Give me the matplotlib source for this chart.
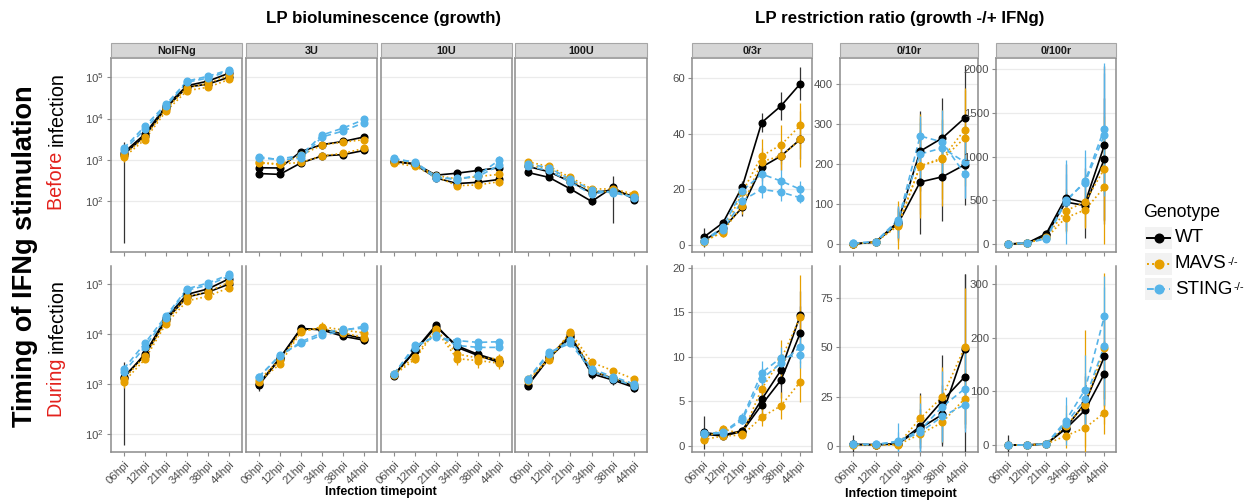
import numpy as np
import matplotlib
matplotlib.use('Agg')
import matplotlib.pyplot as plt
from matplotlib.lines import Line2D
from matplotlib.patches import Rectangle
from matplotlib.ticker import FixedLocator, NullLocator, LogFormatterSciNotation, NullFormatter

plt.rcParams['font.family'] = ['Liberation Sans', 'DejaVu Sans']
plt.rcParams['mathtext.fontset'] = 'custom'
plt.rcParams['mathtext.rm'] = 'Liberation Sans'
plt.rcParams['mathtext.it'] = 'Liberation Sans:italic'
plt.rcParams['mathtext.bf'] = 'Liberation Sans:bold'
plt.rcParams['mathtext.default'] = 'regular'

# ---------------------------------------------------------------- data
timepoints = ['06hpi', '12hpi', '21hpi', '34hpi', '38hpi', '44hpi']
genotypes = ['WT', 'MAVS', 'STING']
genotype_names = ['WT', 'MAVS', 'STING']
genotype_supers = ['', '-/-', '-/-']
growth_panels = ['NoIFNg', '3U', '10U', '100U']
ratio_panels = ['0/3r', '0/10r', '0/100r']

# rows: WT rep a, WT rep b, MAVS rep a, MAVS rep b, STING rep a, STING rep b
lum_before_noifng = [
    [1350, 3800, 18000, 57000, 68000, 100000],
    [1500, 4200, 20000, 62000, 80000, 125000],
    [1150, 3100, 15000, 47000, 57000, 88000],
    [1300, 3500, 17000, 55000, 70000, 112000],
    [1900, 6500, 22000, 80000, 105000, 150000],
    [1700, 5500, 20000, 75000, 95000, 140000],
]
lum_before_noifng_sd = [
    [1340, 500, 2000, 6000, 8000, 12000],
    [300, 500, 2000, 7000, 9000, 15000],
    [250, 400, 1500, 5000, 7000, 10000],
    [250, 400, 1800, 6000, 8000, 13000],
    [400, 900, 2500, 9000, 10000, 15000],
    [300, 700, 2000, 8000, 9000, 14000],
]
lum_before_3u = [
    [470, 450, 850, 1250, 1350, 1700],
    [650, 640, 1600, 2350, 2800, 3600],
    [870, 800, 870, 1250, 1450, 1900],
    [850, 780, 1300, 2300, 2700, 3100],
    [1200, 1000, 1100, 3600, 5000, 8000],
    [1100, 1050, 1300, 4000, 5900, 9500],
]
lum_before_3u_sd = [
    [80, 60, 120, 150, 150, 200],
    [80, 70, 200, 250, 300, 400],
    [100, 90, 100, 150, 160, 200],
    [100, 90, 150, 250, 300, 350],
    [130, 120, 130, 400, 600, 900],
    [120, 120, 150, 450, 600, 1000],
]
lum_before_10u = [
    [900, 820, 430, 480, 560, 650],
    [950, 780, 370, 270, 290, 340],
    [850, 700, 400, 240, 250, 300],
    [950, 800, 420, 350, 400, 450],
    [1100, 850, 360, 360, 400, 750],
    [1050, 900, 400, 330, 430, 1000],
]
lum_before_10u_sd = [
    [100, 90, 50, 60, 70, 80],
    [100, 90, 45, 35, 35, 40],
    [100, 80, 45, 30, 30, 70],
    [100, 90, 50, 45, 50, 60],
    [120, 100, 45, 45, 50, 200],
    [120, 100, 50, 40, 55, 250],
]
lum_before_100u = [
    [500, 380, 200, 100, 220, 110],
    [700, 520, 300, 160, 190, 130],
    [900, 700, 380, 200, 200, 150],
    [750, 620, 330, 180, 170, 140],
    [800, 650, 340, 190, 160, 130],
    [700, 560, 290, 150, 180, 120],
]
lum_before_100u_sd = [
    [80, 60, 30, 20, 190, 15],
    [90, 70, 40, 25, 30, 20],
    [100, 80, 50, 30, 30, 20],
    [90, 80, 40, 25, 25, 20],
    [100, 80, 45, 25, 25, 20],
    [90, 70, 40, 20, 25, 20],
]

lum_during_noifng = [
    [1400, 3700, 19000, 55000, 69000, 100000],
    [1300, 4000, 21000, 62000, 80000, 128000],
    [1100, 3100, 16000, 46000, 57000, 85000],
    [1250, 3600, 18000, 55000, 70000, 110000],
    [2000, 6500, 23000, 80000, 105000, 155000],
    [1700, 5500, 21000, 75000, 95000, 145000],
]
lum_during_noifng_sd = [
    [1340, 500, 2000, 6000, 8000, 12000],
    [300, 500, 2000, 7000, 9000, 15000],
    [250, 400, 1500, 5000, 7000, 10000],
    [250, 400, 1800, 6000, 8000, 13000],
    [400, 900, 2500, 9000, 10000, 15000],
    [300, 700, 2000, 8000, 9000, 14000],
]
lum_during_3u = [
    [940, 3200, 12500, 12500, 10000, 8000],
    [1000, 3300, 13000, 12000, 9000, 7500],
    [1100, 2500, 11000, 14000, 12000, 10500],
    [1200, 3000, 11500, 13000, 10500, 8500],
    [1350, 3800, 6500, 9500, 11500, 14500],
    [1400, 3600, 7000, 10500, 12500, 13000],
]
lum_during_3u_sd = [
    [200, 400, 1500, 1500, 1500, 1500],
    [150, 400, 1500, 1500, 1200, 1200],
    [150, 300, 1500, 3500, 2500, 2000],
    [150, 350, 1300, 1800, 1500, 2000],
    [200, 450, 800, 1200, 1500, 1800],
    [200, 400, 800, 1200, 1500, 1600],
]
lum_during_10u = [
    [1500, 4700, 15000, 5400, 3700, 2700],
    [1450, 4500, 14000, 5800, 3900, 2900],
    [1500, 3100, 12000, 3200, 2950, 2600],
    [1600, 3500, 12500, 4000, 3300, 3200],
    [1550, 5900, 8700, 7400, 6800, 7000],
    [1600, 5300, 9500, 5900, 5400, 5400],
]
lum_during_10u_sd = [
    [200, 600, 1800, 700, 500, 400],
    [200, 500, 1500, 700, 500, 400],
    [200, 500, 1500, 800, 900, 600],
    [200, 400, 1500, 600, 500, 800],
    [200, 700, 1000, 900, 800, 800],
    [200, 600, 1000, 700, 600, 600],
]
lum_during_100u = [
    [930, 3300, 8600, 1600, 1200, 850],
    [950, 3500, 9500, 1800, 1300, 900],
    [1250, 3000, 11000, 2700, 1850, 1250],
    [1150, 3300, 10500, 1900, 1300, 950],
    [1250, 4300, 6500, 1850, 1250, 930],
    [1200, 4000, 7500, 2000, 1400, 1000],
]
lum_during_100u_sd = [
    [120, 400, 1000, 350, 250, 150],
    [120, 400, 1000, 300, 200, 150],
    [150, 400, 1300, 400, 250, 200],
    [150, 400, 1200, 300, 200, 150],
    [150, 500, 800, 300, 200, 180],
    [150, 500, 900, 300, 200, 150],
]

ratio_before_3 = [
    [2.8, 8, 21, 44, 50, 58],
    [1.5, 6, 13.5, 28, 32, 38],
    [1.5, 4.5, 19, 32, 36, 43],
    [1, 5, 14, 30, 32, 38],
    [1.5, 6.5, 19.5, 25.5, 23, 20],
    [1.5, 5.5, 16, 20, 19, 17],
]
ratio_before_3_sd = [
    [3.5, 1.5, 2, 3.5, 5, 6],
    [1, 1.5, 3, 5, 5, 7],
    [1, 1.5, 3, 6, 7, 8],
    [1, 1.5, 3, 5, 5, 10],
    [1, 2, 2, 4, 4, 3],
    [1, 2, 2, 3, 3, 2],
]
ratio_before_10 = [
    [0, 5, 55, 232, 265, 315],
    [0, 5, 50, 155, 168, 198],
    [0, 5, 48, 195, 215, 285],
    [0, 5, 45, 195, 212, 265],
    [2, 5, 55, 270, 255, 175],
    [2, 6, 60, 225, 240, 205],
]
ratio_before_10_sd = [
    [10, 5, 40, 100, 100, 130],
    [5, 5, 40, 130, 110, 100],
    [5, 5, 60, 130, 120, 105],
    [5, 5, 40, 120, 100, 120],
    [5, 5, 40, 50, 80, 60],
    [5, 5, 30, 80, 70, 90],
]
ratio_before_100 = [
    [0, 10, 120, 530, 470, 1130],
    [0, 10, 100, 480, 440, 970],
    [0, 10, 80, 380, 480, 860],
    [0, 10, 70, 300, 390, 650],
    [0, 12, 60, 480, 720, 1320],
    [0, 12, 70, 500, 700, 1250],
]
ratio_before_100_sd = [
    [10, 10, 40, 380, 400, 900],
    [5, 10, 30, 120, 100, 700],
    [5, 10, 30, 250, 300, 600],
    [5, 10, 30, 150, 200, 650],
    [5, 10, 30, 480, 350, 750],
    [5, 10, 30, 300, 300, 700],
]
ratio_during_3 = [
    [1.5, 1.2, 1.7, 5.2, 8.5, 14.7],
    [1.3, 1.1, 1.6, 4.6, 7.4, 12.7],
    [0.8, 1.9, 1.3, 6.4, 9.7, 14.5],
    [0.7, 1.1, 1.2, 3.2, 4.5, 7.2],
    [1.4, 1.5, 3.1, 8.2, 9.9, 10.2],
    [1.3, 1.4, 2.9, 7.5, 9.3, 11.1],
]
ratio_during_3_sd = [
    [1.9, 0.4, 0.4, 1.2, 1.8, 2.7],
    [0.6, 0.3, 0.3, 1.5, 2, 3],
    [0.4, 0.4, 0.3, 1.5, 2.2, 4.7],
    [0.4, 0.3, 0.3, 1.0, 1.5, 2.3],
    [0.5, 0.4, 0.6, 1.3, 1.2, 1.5],
    [0.5, 0.4, 0.5, 1.2, 1.0, 1.8],
]
ratio_during_10 = [
    [0.8, 0.7, 1.2, 10, 23, 35],
    [0.8, 0.7, 1.0, 9, 16, 49],
    [0.5, 0.5, 0.8, 14, 25, 50],
    [0.5, 0.6, 0.7, 6, 12, 24],
    [0.9, 0.8, 2.5, 8, 20, 29],
    [0.9, 0.8, 2.0, 7, 15, 21],
]
ratio_during_10_sd = [
    [5, 1, 1, 17, 23, 52],
    [2, 1, 1, 10, 15, 38],
    [1, 1, 1, 12, 15, 30],
    [1, 1, 1, 5, 10, 15],
    [2, 1, 9, 14, 18, 20],
    [2, 1, 5, 8, 12, 14],
]
ratio_during_100 = [
    [0, 0, 2, 32, 78, 165],
    [0, 0, 2, 30, 65, 133],
    [0, 0, 2, 17, 32, 60],
    [0, 0, 2, 35, 75, 180],
    [0, 0, 2, 45, 103, 240],
    [0, 0, 2, 40, 85, 185],
]
ratio_during_100_sd = [
    [18, 2, 2, 15, 50, 80],
    [10, 2, 2, 12, 30, 60],
    [5, 2, 2, 10, 35, 40],
    [5, 2, 2, 40, 140, 140],
    [8, 2, 2, 45, 65, 75],
    [5, 2, 2, 20, 50, 110],
]

# ---------------------------------------------------------------- styling
W, H = 1248, 501
fig = plt.figure(figsize=(W / 100, H / 100), dpi=100)

series_style = {
    'WT': dict(color='#000000', ecolor='#333333', ls='-'),
    'MAVS': dict(color='#E69F00', ecolor='#E69F00', ls=(0, (1, 1.6))),
    'STING': dict(color='#56B4E9', ecolor='#56B4E9', ls=(0, (3.5, 2.2))),
}
FRAME = '#8c8c8c'
TICKLABEL = '#4d4d4d'
GRID = '#ebebeb'


def box(x0, y0, x1, y1):
    return [x0 / W, 1 - y1 / H, (x1 - x0) / W, (y1 - y0) / H]


def draw_series(ax, values, errors):
    x = np.arange(len(timepoints))
    for i, row in enumerate(values):
        st = series_style[genotypes[i // 2]]
        ax.plot(x, row, color=st['color'], ls=st['ls'], lw=1.2, zorder=2)
    for i, (row, sd) in enumerate(zip(values, errors)):
        st = series_style[genotypes[i // 2]]
        row = np.asarray(row, float)
        sd = np.asarray(sd, float)
        ax.vlines(x, row - sd, row + sd, color=st['ecolor'], lw=0.9, zorder=3)
    for i, row in enumerate(values):
        st = series_style[genotypes[i // 2]]
        ax.plot(x, row, ls='none', marker='o', ms=4.8, color=st['color'],
                mec=st['color'], zorder=4)


def style_axes(ax, bottom_row, show_ylabels):
    ax.set_xlim(-0.6, len(timepoints) - 0.4)
    ax.set_xticks(np.arange(len(timepoints)))
    ax.grid(False)
    ax.yaxis.grid(True, color=GRID, lw=0.9)
    ax.set_axisbelow(True)
    for side, sp in ax.spines.items():
        sp.set_color(FRAME)
        sp.set_linewidth(1.1)
    if bottom_row:
        ax.spines['top'].set_visible(False)
        ax.set_xticklabels(timepoints, rotation=45, ha='right',
                           rotation_mode='anchor', fontsize=7.8, color=TICKLABEL)
    else:
        ax.set_xticklabels([])
    ax.tick_params(axis='both', length=3, width=0.8, color=FRAME,
                   labelsize=8.2, labelcolor=TICKLABEL, pad=2)
    if not show_ylabels:
        ax.tick_params(axis='y', labelleft=False, length=0)


def strip(x0, x1, label):
    fig.add_artist(Rectangle((x0 / W, 1 - 57 / H), (x1 - x0) / W, 14 / H,
                             transform=fig.transFigure, fc='#d6d6d6',
                             ec='#a6a6a6', lw=0.8))
    fig.text((x0 + x1) / 2 / W, 1 - 50.5 / H, label, ha='center', va='center',
             fontsize=7.8, fontweight='bold', color='#1a1a1a')


left_cols = [(111, 242), (246, 377), (381, 512), (515, 647)]
right_cols = [(692, 812), (840, 978), (996, 1116)]
rows = [(58, 252), (266, 452)]

growth_rows = [
    ([lum_before_noifng, lum_before_3u, lum_before_10u, lum_before_100u],
     [lum_before_noifng_sd, lum_before_3u_sd, lum_before_10u_sd, lum_before_100u_sd],
     (10 ** 0.78, 10 ** 5.46)),
    ([lum_during_noifng, lum_during_3u, lum_during_10u, lum_during_100u],
     [lum_during_noifng_sd, lum_during_3u_sd, lum_during_10u_sd, lum_during_100u_sd],
     (10 ** 1.64, 10 ** 5.36)),
]
log_ticks = [1e2, 1e3, 1e4, 1e5]

for r, (vals, errs, ylim) in enumerate(growth_rows):
    y0, y1 = rows[r]
    for c, (x0, x1) in enumerate(left_cols):
        ax = fig.add_axes(box(x0, y0, x1, y1))
        draw_series(ax, vals[c], errs[c])
        ax.set_yscale('log')
        ax.set_ylim(*ylim)
        ax.yaxis.set_major_locator(FixedLocator(log_ticks))
        ax.yaxis.set_minor_locator(NullLocator())
        ax.yaxis.set_minor_formatter(NullFormatter())
        ax.yaxis.set_major_formatter(LogFormatterSciNotation())
        style_axes(ax, bottom_row=(r == 1), show_ylabels=(c == 0))
        if r == 0:
            strip(x0, x1, growth_panels[c])

ratio_rows = [
    ([ratio_before_3, ratio_before_10, ratio_before_100],
     [ratio_before_3_sd, ratio_before_10_sd, ratio_before_100_sd],
     [(-2.5, 67.2), (-20, 465), (-91, 2126)],
     [[0, 20, 40, 60], [0, 100, 200, 300, 400], [0, 500, 1000, 1500, 2000]]),
    ([ratio_during_3, ratio_during_10, ratio_during_100],
     [ratio_during_3_sd, ratio_during_10_sd, ratio_during_100_sd],
     [(-0.7, 20.2), (-3, 91.2), (-13, 333.5)],
     [[0, 5, 10, 15, 20], [0, 25, 50, 75], [0, 100, 200, 300]]),
]

for r, (vals, errs, ylims, yticks) in enumerate(ratio_rows):
    y0, y1 = rows[r]
    for c, (x0, x1) in enumerate(right_cols):
        ax = fig.add_axes(box(x0, y0, x1, y1))
        draw_series(ax, vals[c], errs[c])
        ax.set_ylim(*ylims[c])
        ax.set_yticks(yticks[c])
        ax.set_yticklabels([str(t) for t in yticks[c]])
        style_axes(ax, bottom_row=(r == 1), show_ylabels=True)
        if r == 0:
            strip(x0, x1, ratio_panels[c])

# ---------------------------------------------------------------- titles
fig.text(384 / W, 1 - 18 / H, 'LP bioluminescence (growth)', ha='center',
         va='center', fontsize=12.2, fontweight='bold')
fig.text(900 / W, 1 - 18 / H, 'LP restriction ratio (growth -/+ IFNg)',
         ha='center', va='center', fontsize=12.2, fontweight='bold')
fig.text(381 / W, 1 - 492 / H, 'Infection timepoint', ha='center',
         va='center', fontsize=9, fontweight='bold')
fig.text(901 / W, 1 - 494 / H, 'Infection timepoint', ha='center',
         va='center', fontsize=9, fontweight='bold')

fig.text(25 / W, 1 - 256 / H, 'Timing of IFNg stimulation', rotation=90,
         ha='center', va='center', fontsize=19.5, fontweight='bold')

renderer = fig.canvas.get_renderer()


def two_tone(xc, yc, red, black, size):
    t = fig.text(xc / W, 1 - yc / H, red + ' ' + black, rotation=90,
                 ha='center', va='center', fontsize=size, color='none')
    bb = t.get_window_extent(renderer)
    t.remove()
    t1 = fig.text(xc / W, bb.y0 / H, red + ' ', rotation=90, ha='center',
                  va='bottom', fontsize=size, color='#E3211C')
    b1 = t1.get_window_extent(renderer)
    fig.text(xc / W, b1.y1 / H, black, rotation=90, ha='center',
             va='bottom', fontsize=size, color='black')


two_tone(57, 141, 'Before', 'infection', 14.2)
two_tone(57, 348, 'During', 'infection', 14.2)

# ---------------------------------------------------------------- legend
fig.text(1143 / W, 1 - 212 / H, 'Genotype', ha='left', va='center',
         fontsize=12.8)
for k, (g, name, sup) in enumerate(zip(genotypes, genotype_names, genotype_supers)):
    yc = 238 + k * 25.5
    st = series_style[g]
    fig.add_artist(Rectangle((1145 / W, 1 - (yc + 11) / H), 27 / W, 22 / H,
                             transform=fig.transFigure, fc='#f2f2f2',
                             ec='none'))
    fig.add_artist(Line2D([1147 / W, 1170 / W], [1 - yc / H, 1 - yc / H],
                          transform=fig.transFigure, color=st['color'],
                          ls=st['ls'], lw=1.4))
    fig.add_artist(Line2D([1158.5 / W], [1 - yc / H], transform=fig.transFigure,
                          ls='none', marker='o', ms=6.2, color=st['color']))
    t = fig.text(1175 / W, 1 - yc / H, name, ha='left', va='center',
                 fontsize=13.5)
    if sup:
        bb = t.get_window_extent(renderer)
        fig.text((bb.x1 + 1) / W, (bb.y1 - 2) / H, sup, ha='left',
                 va='top', fontsize=8)

fig.savefig('out.png', dpi=100)
